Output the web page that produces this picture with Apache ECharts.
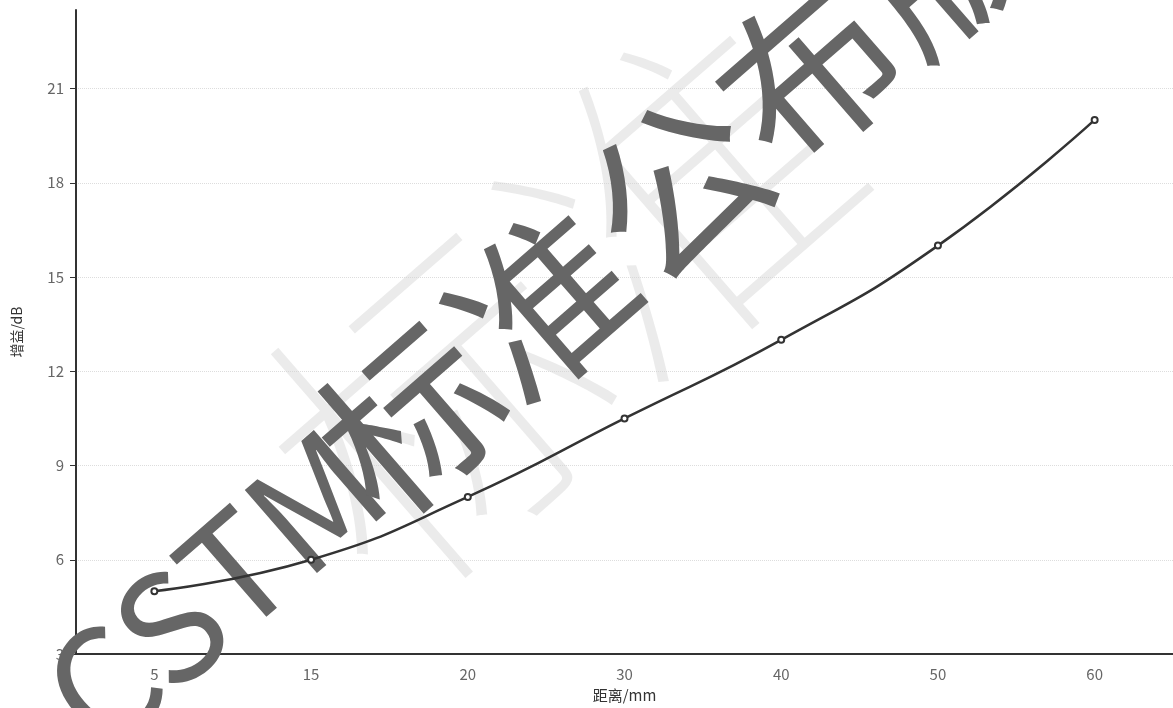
<!DOCTYPE html>
<html>
<head>
<meta charset="utf-8">
<script src="https://cdn.jsdelivr.net/npm/echarts@6/dist/echarts.min.js"></script>
<style>
    html,body{margin:0;padding:0;background:#fff;}
    #chart{width:1173px;height:708px;}
</style>
</head>
<body>
<div id="chart"></div>
<script>
// 距离 (mm) 类目
var distances = ['5', '15', '20', '30', '40', '50', '60'];
// 增益 (dB)
var gains = [5, 6, 8, 10.5, 13, 16, 20];
// y 轴刻度
var yTicks = [3, 6, 9, 12, 15, 18, 21];
var yMin = 3;
var yMax = 23.5;
var wmLatin = 'CSTM';
var wmCjk = '标准公布版';

var myChart = echarts.init(document.getElementById('chart'));
var font = '"Noto Sans CJK SC", "Microsoft YaHei", sans-serif';
var angle = 41 * Math.PI / 180;

var option = {
    animation: false,
    grid: {
        left: 76,
        right: -2,
        top: 10,
        bottom: 39
    },
    xAxis: {
        type: 'category',
        boundaryGap: true,
        data: distances,
        name: '距离/mm',
        nameLocation: 'middle',
        nameGap: 34,
        nameTextStyle: { color: '#333', fontSize: 15, fontFamily: font },
        axisLine: { lineStyle: { color: '#333', width: 2 } },
        axisTick: { lineStyle: { color: '#333' }, length: 6 },
        axisLabel: { color: '#666', fontSize: 15, margin: 13, fontFamily: font },
        splitLine: { show: false }
    },
    yAxis: {
        type: 'value',
        min: yMin,
        max: yMax,
        name: '增益/dB',
        nameLocation: 'middle',
        nameGap: 52,
        nameTextStyle: { color: '#333', fontSize: 14, fontFamily: font },
        axisLine: { show: true, lineStyle: { color: '#333', width: 2 } },
        axisTick: { show: true, customValues: yTicks, lineStyle: { color: '#333' }, length: 6 },
        axisLabel: { customValues: yTicks, color: '#666', fontSize: 15, margin: 12, fontFamily: font },
        splitLine: { show: true, lineStyle: { color: '#ddd', type: 'dotted', width: 1 } }
    },
    series: [
        {
            type: 'line',
            data: gains,
            smooth: true,
            symbol: 'emptyCircle',
            symbolSize: 6,
            itemStyle: { color: '#333', borderWidth: 1.5 },
            lineStyle: { color: '#333', width: 2.5 },
            z: 3
        }
    ],
    // 水印
    graphic: [
        {
            type: 'text',
            x: 560,
            y: 300,
            rotation: angle,
            z: 1,
            silent: true,
            style: {
                text: '标准',
                fontSize: 330,
                fontWeight: 100,
                fontFamily: font,
                fill: 'rgba(210,210,210,0.45)',
                align: 'center',
                verticalAlign: 'middle'
            }
        },
        {
            type: 'text',
            x: 360,
            y: 460,
            rotation: angle,
            z: 2,
            silent: true,
            style: {
                text: wmLatin,
                fontSize: 150,
                fontFamily: font,
                fill: '#666',
                align: 'right',
                verticalAlign: 'middle'
            }
        },
        {
            type: 'text',
            x: 344,
            y: 476,
            rotation: angle,
            z: 2,
            silent: true,
            style: {
                text: wmCjk,
                fontSize: 176,
                fontFamily: font,
                fill: '#666',
                align: 'left',
                verticalAlign: 'middle'
            }
        }
    ]
};
myChart.setOption(option);
</script>
</body>
</html>
